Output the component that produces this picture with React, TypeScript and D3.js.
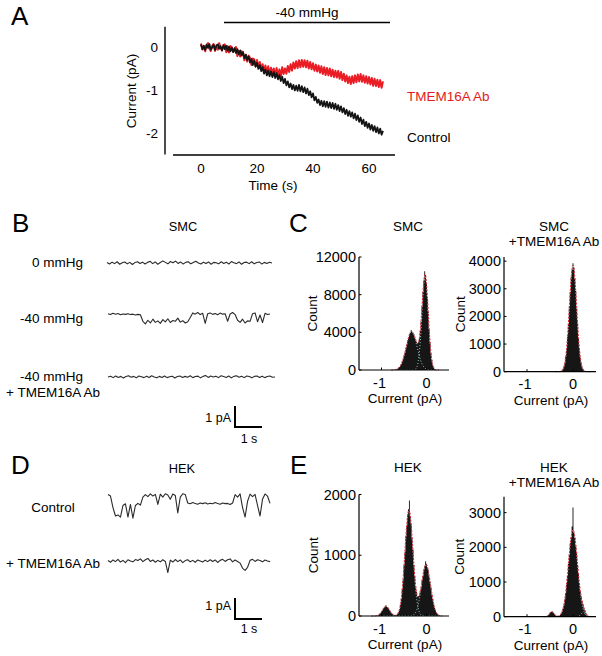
import React from "react";
import * as d3 from "d3";

const FONT = "'Liberation Sans', Arial, Helvetica, sans-serif";

// ---------- Panel A data ----------
const aPressureLabel = "-40 mmHg";
const aPressureWindow = [8.2, 67.5]; // s
const aXTicks = [0, 20, 40, 60];
const aYTicks = [0, -1, -2];
const aSampleInterval = 0.5; // s between samples
const aTmemTrace = [
  0.08,-0.06, 0.02,-0.1, 0.05,0.09, -0.04,-0.09, 0.03,0.07,
  -0.09,0.0, -0.06,0.09, -0.03,-0.08, 0.04,0.06, -0.12,0.02,
  -0.13,0.02, 0.0,-0.11, -0.04,0.0, -0.21,-0.09, -0.22,-0.1,
  -0.12,-0.31, -0.18,-0.34, -0.2,-0.25, -0.42,-0.27, -0.29,-0.45,
  -0.3,-0.47, -0.35,-0.52, -0.4,-0.56, -0.43,-0.6, -0.45,-0.64,
  -0.48,-0.62, -0.5,-0.67, -0.49,-0.66, -0.52,-0.68, -0.47,-0.63,
  -0.5,-0.62, -0.44,-0.58, -0.4,-0.55, -0.36,-0.5, -0.33,-0.49,
  -0.31,-0.47, -0.3,-0.46, -0.31,-0.47, -0.32,-0.5, -0.35,-0.52,
  -0.38,-0.55, -0.41,-0.57, -0.43,-0.6, -0.45,-0.63, -0.47,-0.65,
  -0.49,-0.66, -0.5,-0.68, -0.53,-0.7, -0.55,-0.71, -0.56,-0.74,
  -0.58,-0.77, -0.62,-0.8, -0.66,-0.84, -0.69,-0.86, -0.68,-0.84,
  -0.66,-0.82, -0.64,-0.8, -0.63,-0.81, -0.66,-0.83, -0.68,-0.85,
  -0.7,-0.87, -0.72,-0.9, -0.74,-0.91, -0.76,-0.93, -0.77,-0.95,
  -0.8];
const aControlTrace = [
  0.06,-0.05, 0.03,-0.07, 0.05,-0.02, 0.07,-0.06, -0.01,0.05,
  -0.07,0.04, 0.06,-0.04, 0.02,-0.08, 0.04,-0.05, 0.03,-0.09,
  0.01,-0.1, -0.02,-0.12, -0.03,-0.14, -0.05,-0.17, -0.08,-0.2,
  -0.12,-0.26, -0.18,-0.3, -0.22,-0.36, -0.28,-0.42, -0.32,-0.46,
  -0.37,-0.51, -0.42,-0.56, -0.47,-0.62, -0.52,-0.66, -0.55,-0.68,
  -0.57,-0.7, -0.58,-0.72, -0.61,-0.75, -0.65,-0.79, -0.69,-0.84,
  -0.74,-0.89, -0.8,-0.94, -0.85,-0.98, -0.88,-1.01, -0.9,-1.02,
  -0.88,-1.03, -0.91,-1.05, -0.94,-1.08, -0.97,-1.12, -1.03,-1.17,
  -1.08,-1.24, -1.16,-1.3, -1.22,-1.35, -1.25,-1.38, -1.26,-1.39,
  -1.27,-1.41, -1.29,-1.42, -1.3,-1.44, -1.32,-1.46, -1.35,-1.49,
  -1.38,-1.52, -1.42,-1.56, -1.46,-1.6, -1.49,-1.62, -1.52,-1.66,
  -1.55,-1.7, -1.59,-1.74, -1.64,-1.79, -1.69,-1.84, -1.74,-1.88,
  -1.78,-1.92, -1.81,-1.95, -1.84,-1.98, -1.87,-2.01, -1.9,-2.04,
  -1.95];

// ---------- Panel B / D single-channel traces (pA) ----------
const bTrace0mmHg = [0.02,-0.05,0.04,-0.03,0.06,-0.06,0.01,0.05,-0.04,0.03,
  -0.07,0.02,0.06,-0.02,0.04,-0.05,0.03,0.08,-0.03,0.05,
  -0.06,0.02,0.1,0.03,-0.04,0.07,0.01,0.09,-0.02,0.05,
  -0.05,0.03,0.06,-0.04,0.02,0.08,0.0,-0.05,0.04,-0.02,
  0.05,-0.06,0.03,0.01,-0.04,0.06,-0.02,0.04,-0.05,0.07,
  0.01,-0.03,0.05,-0.06,0.02,0.04,-0.03,0.06,-0.04,0.02,
  0.05,-0.05,0.03,-0.02,0.04,0.0];
const bTrace40mmHg = [0.06,0.02,0.08,0.04,0.07,0.01,0.05,0.03,0.06,0.02,0.04,0.0,0.03,0.01,
  -0.3,-0.42,-0.25,-0.38,-0.2,-0.35,-0.28,-0.4,-0.22,-0.33,-0.18,-0.36,-0.26,-0.3,-0.15,-0.34,-0.27,-0.38,-0.32,-0.12,
  0.1,0.04,0.12,0.02,0.08,-0.4,0.06,0.1,0.03,0.07,0.01,0.09,0.04,0.06,-0.3,0.05,0.12,0.02,
  -0.25,-0.35,-0.2,-0.38,-0.28,-0.3,0.06,0.1,-0.32,0.0,-0.36,0.08,0.02,0.05];
const bTrace40mmHgAb = [0.0,0.04,-0.03,0.05,-0.02,0.03,-0.05,0.02,0.06,-0.01,
  0.03,-0.04,0.05,0.01,-0.03,0.04,-0.02,0.06,0.0,-0.04,
  0.03,-0.02,0.05,-0.03,0.01,0.04,-0.05,0.02,0.05,-0.02,
  0.03,-0.01,0.06,-0.03,0.02,0.04,-0.04,0.03,0.07,-0.02,
  0.05,0.0,0.04,-0.03,0.06,0.02,-0.02,0.05,-0.04,0.03,
  0.06,-0.01,0.04,-0.03,0.05,0.02,-0.04,0.03,0.05,-0.02,
  0.04,-0.03,0.02,0.05,-0.01,0.0];
const dTraceControl = [0.02,-0.05,-0.6,-1.0,-0.95,-1.05,-0.5,-0.42,-1.05,-0.45,
  -1.1,-0.5,-0.4,-0.48,-0.1,0.02,-0.08,0.05,-0.05,0.03,
  -0.45,0.04,-0.1,0.06,0.0,-0.2,0.05,-0.02,-0.85,-0.1,
  0.06,0.02,-0.38,-0.42,-0.36,-0.4,-0.44,-0.38,-0.41,-0.37,
  -0.43,-0.39,-0.42,-0.36,-0.4,-0.44,-0.38,-0.41,-0.4,-0.45,
  -0.38,0.02,-0.1,0.05,-0.6,-1.05,-0.3,0.04,-0.08,0.03,
  -0.5,-1.0,-0.2,0.05,-0.05,-0.4];
const dTraceAb = [0.02,-0.06,0.05,-0.03,0.08,-0.05,0.03,-0.08,0.06,0.0,
  -0.04,0.07,0.02,0.1,-0.03,0.06,0.12,-0.02,0.05,-0.06,
  0.03,-0.04,0.06,-0.02,-0.55,0.04,-0.05,0.07,-0.03,0.05,
  -0.08,0.02,0.06,-0.04,0.03,-0.06,0.05,0.0,-0.05,0.04,
  -0.03,0.06,-0.02,0.05,-0.07,0.03,0.08,-0.02,0.06,0.1,
  -0.04,0.05,-0.02,-0.1,-0.35,-0.45,-0.3,0.03,0.08,-0.02,
  0.06,0.02,-0.04,0.05,0.0,-0.03];

// ---------- Histograms (bin width 0.02 pA) ----------
const binWidth = 0.02;
const smcStart = -0.70;
const smcCounts = [30,62,88,150,230,310,480,640,900,1150,1540,1850,2320,2650,3150,3420,3820,3950,4250,4050,
  3900,3800,3450,3250,3000,2850,2950,3350,4150,5200,6800,8300,9500,10500,10100,9300,7700,6150,4300,2950,
  1750,1050,500,260,100,40];
const smcAbStart = -0.30;
const smcAbCounts = [4,9,18,45,85,175,300,530,820,1270,1740,2360,2880,3420,3700,3920,3760,3380,2920,2310,
  1780,1230,840,510,310,165,90,40,22,7,3];
const hekStart = -1.14;
const hekCounts = [2,5,6,14,20,38,50,76,95,125,138,160,175,150,144,118,100,70,55,33,24,14,11,15,22,
  35,70,110,195,290,445,600,840,1050,1310,1480,1680,1760,1900,1640,1520,1280,1090,840,660,480,400,320,330,340,
  410,470,590,660,760,820,900,860,800,760,650,560,470,355,280,195,135,95,55,38,20,12];
const hekAbStart = -0.56;
const hekAbCounts = [18,45,70,115,135,160,130,105,70,40,25,15,20,30,48,90,135,230,330,510,
  680,950,1200,1540,1790,2120,2290,2600,3150,2420,2280,2050,1830,1490,1230,950,740,590,440,350,
  240,180,100,65,28,14];

// Gaussian fit components [amplitude, mean (pA), sigma (pA)]
const smcFit = [[4100, -0.33, 0.12], [10000, -0.03, 0.07]];
const smcAbFit = [[3850, 0.0, 0.08]];
const hekFit = [[160, -0.9, 0.08], [1750, -0.39, 0.09], [850, -0.01, 0.1]];
const hekAbFit = [[150, -0.46, 0.05], [2500, 0.0, 0.1], [120, 0.22, 0.05]];

const histXTicks = [-1, 0];

const TRACE_PX_PER_PA = 21;

function Trace({ data, x0, x1, y0, color = "#2b2b2b", width = 1.1 }: any) {
  const x = d3.scaleLinear([0, data.length - 1], [x0, x1]);
  const y = d3.scaleLinear([0, 1], [y0, y0 - TRACE_PX_PER_PA]);
  const line = d3.line<number>().x((_, i) => x(i)).y((v) => y(v));
  return <path d={line(data) || ""} fill="none" stroke={color} strokeWidth={width} strokeLinejoin="round" />;
}

function ScaleBar({ x0, yBottom, pALabelY, sLabelY }: any) {
  return (
    <g>
      <path d={`M${x0},${yBottom - TRACE_PX_PER_PA}V${yBottom}H${x0 + 27}`} fill="none" stroke="#000" strokeWidth={2} />
      <text x={x0 - 4} y={pALabelY} textAnchor="end" fontSize={12.5} fontFamily={FONT}>1 pA</text>
      <text x={x0 + 14} y={sLabelY} textAnchor="middle" fontSize={12.5} fontFamily={FONT}>1 s</text>
    </g>
  );
}

function Hist({ left, right, top, bottom, yMax, yTicks, counts, start, comps, titles, titleY, countX }: any) {
  const x = d3.scaleLinear([-1.5, 0.5], [left, right]);
  const y = d3.scaleLinear([0, yMax], [bottom, top]);
  const pts: [number, number][] = [[start - binWidth, 0]];
  counts.forEach((c: number, i: number) => pts.push([start + i * binWidth, c]));
  pts.push([start + counts.length * binWidth, 0]);
  const area = d3.area<[number, number]>().x((d) => x(d[0])).y0(bottom).y1((d) => y(d[1])).curve(d3.curveStep);
  const g = (p: number[], v: number) => p[0] * Math.exp(-((v - p[1]) ** 2) / (2 * p[2] * p[2]));
  const xs = d3.range(start - 0.08, start + counts.length * binWidth + 0.06, 0.004);
  const sumPath = d3.line<number>().x((v) => x(v)).y((v) => y(comps.reduce((s: number, p: number[]) => s + g(p, v), 0)))(xs) || "";
  const compPaths = comps.map((p: number[]) => d3.line<number>().x((v) => x(v)).y((v) => y(g(p, v)))(xs) || "");
  const midY = (top + bottom) / 2;
  return (
    <g fontFamily={FONT}>
      <path d={area(pts) || ""} fill="#161616" />
      {compPaths.map((d: string, i: number) => (
        <path key={i} d={d} fill="none" stroke="#a8e0e0" strokeWidth={1} strokeDasharray="1,2" />
      ))}
      <path d={sumPath} fill="none" stroke="#e3202a" strokeWidth={1} strokeDasharray="2,1.5" />
      <line x1={left} x2={left} y1={top} y2={bottom} stroke="#000" strokeWidth={1.2} />
      <line x1={left} x2={right} y1={bottom} y2={bottom} stroke="#000" strokeWidth={1.2} />
      {yTicks.map((t: number) => (
        <g key={t}>
          <line x1={left} x2={left + 2.5} y1={y(t)} y2={y(t)} stroke="#000" strokeWidth={1} />
          <text x={left - 3} y={y(t) + 5} textAnchor="end" fontSize={14.5}>{t}</text>
        </g>
      ))}
      {histXTicks.map((t) => (
        <g key={t}>
          <line x1={x(t)} x2={x(t)} y1={bottom} y2={bottom - 2.5} stroke="#000" strokeWidth={1} />
          <text x={x(t) - (t < 0 ? 2 : 0)} y={bottom + 17.5} textAnchor="middle" fontSize={14.5}>{t}</text>
        </g>
      ))}
      <text x={(left + right) / 2 + 1} y={bottom + 33} textAnchor="middle" fontSize={13.5}>Current (pA)</text>
      <text transform={`translate(${countX},${midY}) rotate(-90)`} textAnchor="middle" fontSize={13.5}>Count</text>
      {titles.map((t: string, i: number) => (
        <text key={i} x={(left + right) / 2 + 4} y={titleY + i * 14.5} textAnchor="middle" fontSize={13.5}>{t}</text>
      ))}
    </g>
  );
}

export default function App() {
  const xA = d3.scaleLinear([0, 60], [201, 369]);
  const yA = d3.scaleLinear([0, -2], [47, 133]);
  const lineA = d3.line<number>().x((_, i) => xA(i * aSampleInterval)).y((v) => yA(v));
  const panelLabel = { fontSize: 26, fontFamily: FONT } as any;
  return (
    <svg width={602} height={656} style={{ position: "absolute", left: 0, top: 0, background: "#fff" }}>
      <rect width={602} height={656} fill="#fff" />
      {/* Panel labels */}
      <text x={11} y={25} {...panelLabel}>A</text>
      <text x={12} y={232} {...panelLabel}>B</text>
      <text x={289} y={232} {...panelLabel}>C</text>
      <text x={11} y={474} {...panelLabel}>D</text>
      <text x={290} y={474} {...panelLabel}>E</text>

      {/* Panel A */}
      <g fontFamily={FONT}>
        <text x={(xA(aPressureWindow[0]) + xA(aPressureWindow[1])) / 2} y={17} textAnchor="middle" fontSize={13.5}>{aPressureLabel}</text>
        <line x1={xA(aPressureWindow[0])} x2={xA(aPressureWindow[1])} y1={22.5} y2={22.5} stroke="#000" strokeWidth={1.6} />
        <line x1={165} x2={165} y1={yA(0.47)} y2={yA(-2.5)} stroke="#000" strokeWidth={1.4} />
        <line x1={xA(-10)} x2={xA(69.3)} y1={155} y2={155} stroke="#000" strokeWidth={1.4} />
        {aYTicks.map((t) => (
          <text key={t} x={158} y={yA(t) + 5} textAnchor="end" fontSize={13.5}>{t}</text>
        ))}
        {aXTicks.map((t) => (
          <text key={t} x={xA(t)} y={173} textAnchor="middle" fontSize={13.5}>{t}</text>
        ))}
        <text transform={`translate(136,91) rotate(-90)`} textAnchor="middle" fontSize={13.5}>Current (pA)</text>
        <text x={273} y={190} textAnchor="middle" fontSize={13.5}>Time (s)</text>
        <path d={lineA(aTmemTrace) || ""} fill="none" stroke="#ea1c24" strokeWidth={2} strokeLinejoin="round" />
        <path d={lineA(aControlTrace) || ""} fill="none" stroke="#141414" strokeWidth={1.8} strokeLinejoin="round" />
        <text x={407} y={101} fontSize={13.5} fill="#e31a22">TMEM16A Ab</text>
        <text x={407} y={142} fontSize={13.5}>Control</text>
      </g>

      {/* Panel B */}
      <g fontFamily={FONT} fontSize={13.5}>
        <text x={183} y={231} textAnchor="middle" fontSize={12.8}>SMC</text>
        <text x={83} y={267} textAnchor="end">0 mmHg</text>
        <text x={83} y={323} textAnchor="end">-40 mmHg</text>
        <text x={83} y={381} textAnchor="end">-40 mmHg</text>
        <text x={53} y={397} textAnchor="middle">+ TMEM16A Ab</text>
      </g>
      <Trace data={bTrace0mmHg} x0={107} x1={272} y0={263} />
      <Trace data={bTrace40mmHg} x0={108} x1={270} y0={315} />
      <Trace data={bTrace40mmHgAb} x0={108} x1={275} y0={377} />
      <ScaleBar x0={235} yBottom={427} pALabelY={421.5} sLabelY={443} />

      {/* Panel D */}
      <g fontFamily={FONT} fontSize={13.5}>
        <text x={182} y={473} textAnchor="middle" fontSize={12.8}>HEK</text>
        <text x={53} y={512} textAnchor="middle">Control</text>
        <text x={53} y={568} textAnchor="middle">+ TMEM16A Ab</text>
      </g>
      <Trace data={dTraceControl} x0={108} x1={270} y0={495} />
      <Trace data={dTraceAb} x0={108} x1={270} y0={561} />
      <ScaleBar x0={235} yBottom={619} pALabelY={610} sLabelY={633} />

      {/* Panel C */}
      <Hist left={359} right={449} top={257} bottom={370} yMax={12000} yTicks={[0, 4000, 8000, 12000]}
        counts={smcCounts} start={smcStart} comps={smcFit} titles={["SMC"]} titleY={231} countX={317} />
      <Hist left={504} right={596} top={257} bottom={371.7} yMax={4150} yTicks={[0, 1000, 2000, 3000, 4000]}
        counts={smcAbCounts} start={smcAbStart} comps={smcAbFit} titles={["SMC", "+TMEM16A Ab"]} titleY={231} countX={465} />

      {/* Panel E */}
      <Hist left={359} right={449} top={494.5} bottom={616} yMax={2000} yTicks={[0, 1000, 2000]}
        counts={hekCounts} start={hekStart} comps={hekFit} titles={["HEK"]} titleY={472} countX={318} />
      <Hist left={504} right={596} top={496.7} bottom={616.7} yMax={3460} yTicks={[0, 1000, 2000, 3000]}
        counts={hekAbCounts} start={hekAbStart} comps={hekAbFit} titles={["HEK", "+TMEM16A Ab"]} titleY={472} countX={464} />
    </svg>
  );
}
